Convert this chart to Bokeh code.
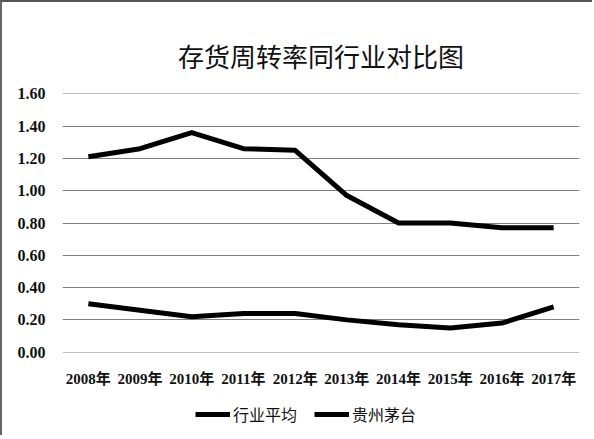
from bokeh.plotting import figure
from bokeh.layouts import column
from bokeh.models import Legend, LegendItem, ColumnDataSource, FixedTicker
from bokeh.embed import file_html
from bokeh.resources import INLINE

years = ["2008年", "2009年", "2010年", "2011年", "2012年", "2013年", "2014年", "2015年", "2016年", "2017年"]
industry_avg = [1.21, 1.26, 1.36, 1.26, 1.25, 0.97, 0.80, 0.80, 0.77, 0.77]
moutai = [0.30, 0.26, 0.22, 0.24, 0.24, 0.20, 0.17, 0.15, 0.18, 0.28]
series_names = ["行业平均", "贵州茅台"]
y_ticks = [0.0, 0.2, 0.4, 0.6, 0.8, 1.0, 1.2, 1.4, 1.6]
y_labels = {0.0: "0.00", 0.2: "0.20", 0.4: "0.40", 0.6: "0.60", 0.8: "0.80",
            1.0: "1.00", 1.2: "1.20", 1.4: "1.40", 1.6: "1.60"}

src = ColumnDataSource(dict(year=years, avg=industry_avg, mt=moutai))

p = figure(x_range=years, y_range=(-0.002, 1.602), width=590, height=387,
           output_backend="svg", toolbar_location=None,
           min_border_left=60, min_border_right=13, min_border_top=91, min_border_bottom=36)

p.title.text = "存货周转率同行业对比图"
p.title.align = "center"
p.title.text_font = "Noto Sans CJK SC"
p.title.text_font_style = "normal"
p.title.text_font_size = "26px"
p.title.text_color = "#111111"
p.title.standoff = 39
p.title.offset = -12

p.line("year", "avg", source=src, line_width=5, line_color="black", line_join="round")
p.line("year", "mt", source=src, line_width=5, line_color="black", line_join="round")

p.outline_line_color = None
p.xgrid.grid_line_color = None
p.ygrid.grid_line_color = "#808080"
p.ygrid.grid_line_width = 1.2
p.yaxis.ticker = FixedTicker(ticks=y_ticks)
p.yaxis.major_label_overrides = y_labels
for ax in (p.xaxis, p.yaxis):
    ax.axis_line_color = None
    ax.major_tick_line_color = None
    ax.minor_tick_line_color = None
    ax.major_label_text_font = "'Liberation Serif', 'Noto Sans CJK SC'"
    ax.major_label_text_font_style = "bold"
    ax.major_label_text_color = "#111111"
p.yaxis.major_label_text_font_size = "16px"
p.xaxis.major_label_text_font_size = "15px"
p.yaxis.major_label_standoff = 11
p.xaxis.major_label_standoff = 12

# legend strip below the chart (series drawn off-screen, only the legend shows)
p2 = figure(x_range=years, y_range=(5, 6), width=590, height=46,
            output_backend="svg", toolbar_location=None,
            min_border_left=0, min_border_right=0, min_border_top=0, min_border_bottom=0)
p2.axis.visible = False
p2.grid.visible = False
p2.outline_line_color = None
k1 = p2.line("year", "avg", source=src, line_width=5, line_color="black")
k2 = p2.line("year", "mt", source=src, line_width=5, line_color="black")
legend = Legend(items=[LegendItem(label=series_names[0], renderers=[k1]),
                       LegendItem(label=series_names[1], renderers=[k2])],
                orientation="horizontal", location=(133, 9),
                label_text_font="Noto Sans CJK SC", label_text_font_size="16px",
                label_text_color="#111111",
                glyph_width=35, spacing=17, label_standoff=3,
                border_line_color=None, background_fill_alpha=0, padding=5)
p2.add_layout(legend)

layout = column(p, p2, spacing=0)
layout.styles = {"border-top": "2px solid #555555", "border-left": "2px solid #666666"}

open("out.html", "w").write(file_html(layout, INLINE))
